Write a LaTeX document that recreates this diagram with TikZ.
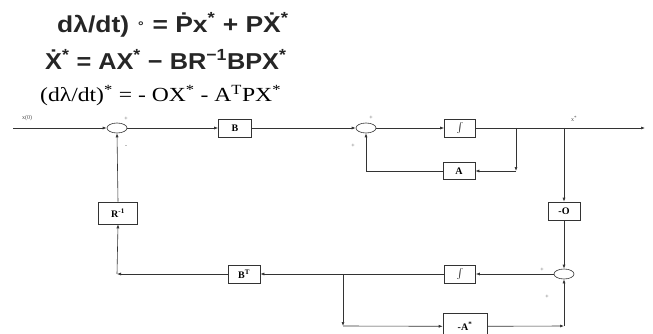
\documentclass[tikz,border=0pt]{standalone}
\usepackage{fontspec}
\setmainfont{Liberation Serif}
\newfontfamily\sansb{Liberation Sans}
\newfontfamily\symf{DejaVu Sans}
\usetikzlibrary{arrows.meta,shapes.geometric}
\begin{document}
\begin{tikzpicture}[x=1pt,y=-1pt,
  blk/.style={draw=black!80, line width=0.6pt, minimum height=18pt, inner sep=1pt,
    font=\fontsize{10}{12}\selectfont\bfseries, fill=white},
  sumj/.style={draw=black!80, line width=0.6pt, ellipse, minimum width=20pt, minimum height=10pt, inner sep=0pt},
  conn/.style={draw=black!80, line width=0.6pt, -{Latex[length=4pt,width=3pt]}},
  lbl/.style={font=\fontsize{6}{7}\selectfont, text=black!70, inner sep=0pt},
  eqa/.style={font=\sansb\bfseries\fontsize{23}{26}\selectfont, inner sep=0pt, anchor=base west, text=black!85},
  eqb/.style={font=\fontsize{20}{24}\selectfont, inner sep=0pt, anchor=base west}
]
\useasboundingbox (0,0) rectangle (653,334);
% equations
\node[eqa] (e1) at (57,33) {\scalebox{1.15}[1]{dλ/dt) \raisebox{0.25em}{\symf\fontsize{12}{12}\selectfont∘} = Ṗx\textsuperscript{*} + PẊ\textsuperscript{*}}};
\node[eqa] (e2) at (45,70) {\scalebox{1.1}[1]{Ẋ\textsuperscript{*} = AX\textsuperscript{*} − BR\textsuperscript{−1}BPX\textsuperscript{*}}};
\node[eqb] (e3) at (40,102) {\scalebox{1.18}[1]{(dλ/dt)\textsuperscript{*} = - OX\textsuperscript{*} - A\textsuperscript{T}PX\textsuperscript{*}}};
% blocks
\node[sumj] (s1) at (117,128) {};
\node[blk, minimum width=33pt] (B) at (235,128) {B};
\node[sumj] (s2) at (366,128) {};
\node[blk, minimum width=31pt] (I1) at (460,128) {$\int$};
\node[blk, minimum width=32pt, minimum height=17pt] (A) at (459,171) {A};
\node[blk, minimum width=32pt] (O) at (564,211) {-O};
\node[sumj] (s3) at (564,274) {};
\node[blk, minimum width=31pt] (I2) at (460,274) {$\int$};
\node[blk, minimum width=32pt] (BT) at (244,274) {B\textsuperscript{T}};
\node[blk, minimum width=39pt, minimum height=22pt] (R) at (118,213) {R\textsuperscript{-1}};
\node[blk, minimum width=44pt, minimum height=26pt, anchor=north] (MA) at (465,313) {-A\textsuperscript{*}};
% coordinates
\coordinate (x0) at (13,128);
\coordinate (out) at (645,128);
\coordinate (br1) at (516,128);
\coordinate (br1d) at (516,171);
\coordinate (br2) at (564,128);
\coordinate (cR) at (117,274);
\coordinate (br3) at (343,274);
\coordinate (br3d) at (343,326);
\coordinate (c4) at (564,326);
% connectors
\draw[conn] (x0) -- (s1.west);
\draw[conn] (s1.east) -- (B.west);
\draw[conn] (B.east) -- (s2.west);
\draw[conn] (s2.east) -- (I1.west);
\draw[conn] (I1.east) -- (out);
\draw[conn] (br1) -- (br1d);
\draw[conn] (br1d) -- (A.east);
\draw[conn] (A.west) -| (s2.south);
\draw[conn] (br2) -- (O.north);
\draw[conn] (O.south) -- (s3.north);
\draw[conn] (s3.west) -- (I2.east);
\draw[conn] (I2.west) -- (BT.east);
\draw[conn] (BT.west) -- (cR);
\draw[conn] (cR) -- (R.south);
\draw[conn] (R.north) -- (s1.south);
\draw[conn] (br3) -- (br3d);
\draw[conn] (br3d) -- (MA.west);
\draw[conn] (MA.east) -- (c4);
\draw[conn] (c4) -- (s3.south);
% labels
\node[lbl] (lx0) at (27,118) {x(0)};
\node[lbl] (p1) at (126,119) {+};
\node[lbl] (m1) at (126,147) {-};
\node[lbl] (p2) at (371,118) {+};
\node[lbl] (p3) at (353,146) {+};
\node[lbl] (lxs) at (574,119) {x\textsuperscript{*}};
\node[lbl] (p4) at (542,270) {+};
\node[lbl] (p5) at (547,297) {+};
\end{tikzpicture}
\end{document}
